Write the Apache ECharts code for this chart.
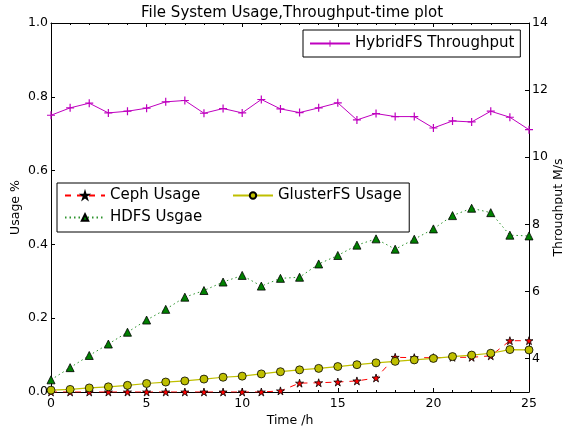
<!DOCTYPE html>
<html>
<head>
<meta charset="utf-8">
<script src="https://cdn.jsdelivr.net/npm/echarts@6/dist/echarts.min.js"></script>
<style>
html,body{margin:0;padding:0;background:#fff;}
#chart{width:563px;height:429px;}
</style>
</head>
<body>
<div id="chart"></div>
<script>
const hours = [0,1,2,3,4,5,6,7,8,9,10,11,12,13,14,15,16,17,18,19,20,21,22,23,24,25];
const cephUsage = [0,0,0,0,0,0,0,0,0,0,0,0,0.003,0.024,0.025,0.027,0.030,0.038,0.094,0.093,0.093,0.094,0.094,0.098,0.139,0.139];
const hdfsUsage = [0.033,0.066,0.099,0.130,0.162,0.195,0.224,0.257,0.275,0.298,0.316,0.287,0.308,0.311,0.347,0.370,0.398,0.415,0.387,0.414,0.442,0.478,0.498,0.486,0.425,0.423];
const glusterUsage = [0.005,0.007,0.011,0.014,0.018,0.023,0.027,0.030,0.035,0.040,0.043,0.049,0.055,0.060,0.064,0.069,0.074,0.079,0.083,0.087,0.091,0.096,0.100,0.105,0.115,0.114];
const hybridThroughput = [11.25,11.47,11.61,11.32,11.37,11.46,11.65,11.69,11.31,11.45,11.32,11.72,11.44,11.33,11.47,11.62,11.11,11.30,11.21,11.21,10.87,11.08,11.05,11.37,11.19,10.82];
const xTicks = [0,5,10,15,20,25];
const leftTicks = [0,0.2,0.4,0.6,0.8,1.0];
const rightTicks = [4,6,8,10,12,14];

const FONT = 'DejaVu Sans';
const STAR = 'path://M0,-100L22,-31L95,-31L36,12L59,81L0,38L-59,81L-36,12L-95,-31L-22,-31Z';
const PLUS = 'path://M0,34H34V0H46V34H80V46H46V80H34V46H0Z';

function pairs(vals){ return hours.map((h,i)=>[h, vals[i]]); }

const chart = echarts.init(document.getElementById('chart'), null, {renderer:'canvas'});

const xCommon = {
  type:'value', min:xTicks[0], max:xTicks[xTicks.length-1], interval:5,
  splitLine:{show:false},
  axisLine:{show:true, onZero:false, lineStyle:{color:'#000', width:1}},
  axisTick:{show:true, inside:true, length:4, lineStyle:{color:'#000'}},
  minorTick:{show:true, splitNumber:5, length:2, lineStyle:{color:'#000'}},
  minorSplitLine:{show:false}
};

chart.setOption({
  animation:false,
  backgroundColor:'#fff',
  textStyle:{fontFamily:FONT},
  title:{
    text:'File System Usage,Throughput-time plot',
    left:136, top:1,
    textStyle:{fontFamily:FONT, fontSize:15, fontWeight:'normal', color:'#000'}
  },
  grid:{left:51, right:34, top:23, bottom:37, containLabel:false, outerBoundsMode:'none'},
  legend:[
    {
      data:['HybridFS Throughput'],
      left:303, top:30, padding:[6,6,6,6],
      itemWidth:40, itemHeight:8,
      backgroundColor:'#fff', borderColor:'#000', borderWidth:1, borderRadius:0,
      selectedMode:false,
      textStyle:{fontFamily:FONT, fontSize:15, color:'#000'}
    },
    {
      data:['Ceph Usage','HDFS Usgae'],
      orient:'vertical',
      left:57, top:183, padding:[5,207,7,7], itemGap:7,
      itemWidth:40, itemHeight:8,
      backgroundColor:'#fff', borderColor:'#000', borderWidth:1, borderRadius:0,
      selectedMode:false,
      textStyle:{fontFamily:FONT, fontSize:15, color:'#000'}
    },
    {
      data:['GlusterFS Usage'],
      left:232, top:188, padding:0,
      itemWidth:40, itemHeight:8,
      selectedMode:false,
      textStyle:{fontFamily:FONT, fontSize:15, color:'#000'}
    }
  ],
  xAxis:[
    Object.assign({}, xCommon, {
      position:'bottom',
      name:'Time /h', nameLocation:'middle', nameGap:22, nameMoveOverlap:false,
      nameTextStyle:{fontFamily:FONT, fontSize:12.5, color:'#000'},
      axisLabel:{show:true, margin:5, fontFamily:FONT, fontSize:12.5, color:'#000'}
    }),
    Object.assign({}, xCommon, {
      position:'top',
      axisLabel:{show:false}
    })
  ],
  yAxis:[
    {
      type:'value', position:'left', min:leftTicks[0], max:leftTicks[leftTicks.length-1], interval:0.2,
      name:'Usage %', nameLocation:'middle', nameRotate:90, nameGap:29, nameMoveOverlap:false,
      nameTextStyle:{fontFamily:FONT, fontSize:12.5, color:'#000'},
      splitLine:{show:false},
      axisLine:{show:true, onZero:false, lineStyle:{color:'#000', width:1}},
      axisTick:{show:true, inside:true, length:4, lineStyle:{color:'#000'}},
      axisLabel:{show:true, margin:3, fontFamily:FONT, fontSize:12.5, color:'#000',
        formatter:v=>v.toFixed(1)}
    },
    {
      type:'value', position:'right', min:3, max:14,
      name:'Throughput M/s', nameLocation:'middle', nameRotate:90, nameGap:23, nameMoveOverlap:false,
      nameTextStyle:{fontFamily:FONT, fontSize:12.5, color:'#000'},
      splitLine:{show:false},
      axisLine:{show:true, onZero:false, lineStyle:{color:'#000', width:1}},
      axisTick:{show:true, inside:true, length:4, customValues:rightTicks, lineStyle:{color:'#000'}},
      axisLabel:{show:true, margin:3, fontFamily:FONT, fontSize:12.5, color:'#000', customValues:rightTicks}
    }
  ],
  series:[
    {
      name:'Ceph Usage', type:'line', xAxisIndex:0, yAxisIndex:0,
      data:pairs(cephUsage),
      symbol:STAR, symbolSize:8, showAllSymbol:true,
      lineStyle:{color:'#ff0000', width:1, type:[6,6]},
      itemStyle:{color:'#ff0000', borderColor:'#000', borderWidth:0.8},
      z:2
    },
    {
      name:'HDFS Usgae', type:'line', xAxisIndex:0, yAxisIndex:0,
      data:pairs(hdfsUsage),
      symbol:'triangle', symbolSize:8, showAllSymbol:true,
      lineStyle:{color:'#2e942e', width:1, type:[1.5,3]},
      itemStyle:{color:'#008000', borderColor:'#000', borderWidth:0.8},
      z:3
    },
    {
      name:'GlusterFS Usage', type:'line', xAxisIndex:0, yAxisIndex:0,
      data:pairs(glusterUsage),
      symbol:'circle', symbolSize:8, showAllSymbol:true,
      lineStyle:{color:'#bfbf00', width:1.2},
      itemStyle:{color:'#bfbf00', borderColor:'#000', borderWidth:0.8},
      z:4
    },
    {
      name:'HybridFS Throughput', type:'line', xAxisIndex:0, yAxisIndex:1,
      data:pairs(hybridThroughput),
      symbol:PLUS, symbolSize:8, showAllSymbol:true,
      lineStyle:{color:'#bf00bf', width:1},
      itemStyle:{color:'#bf00bf'},
      z:5
    }
  ]
});
</script>
</body>
</html>
